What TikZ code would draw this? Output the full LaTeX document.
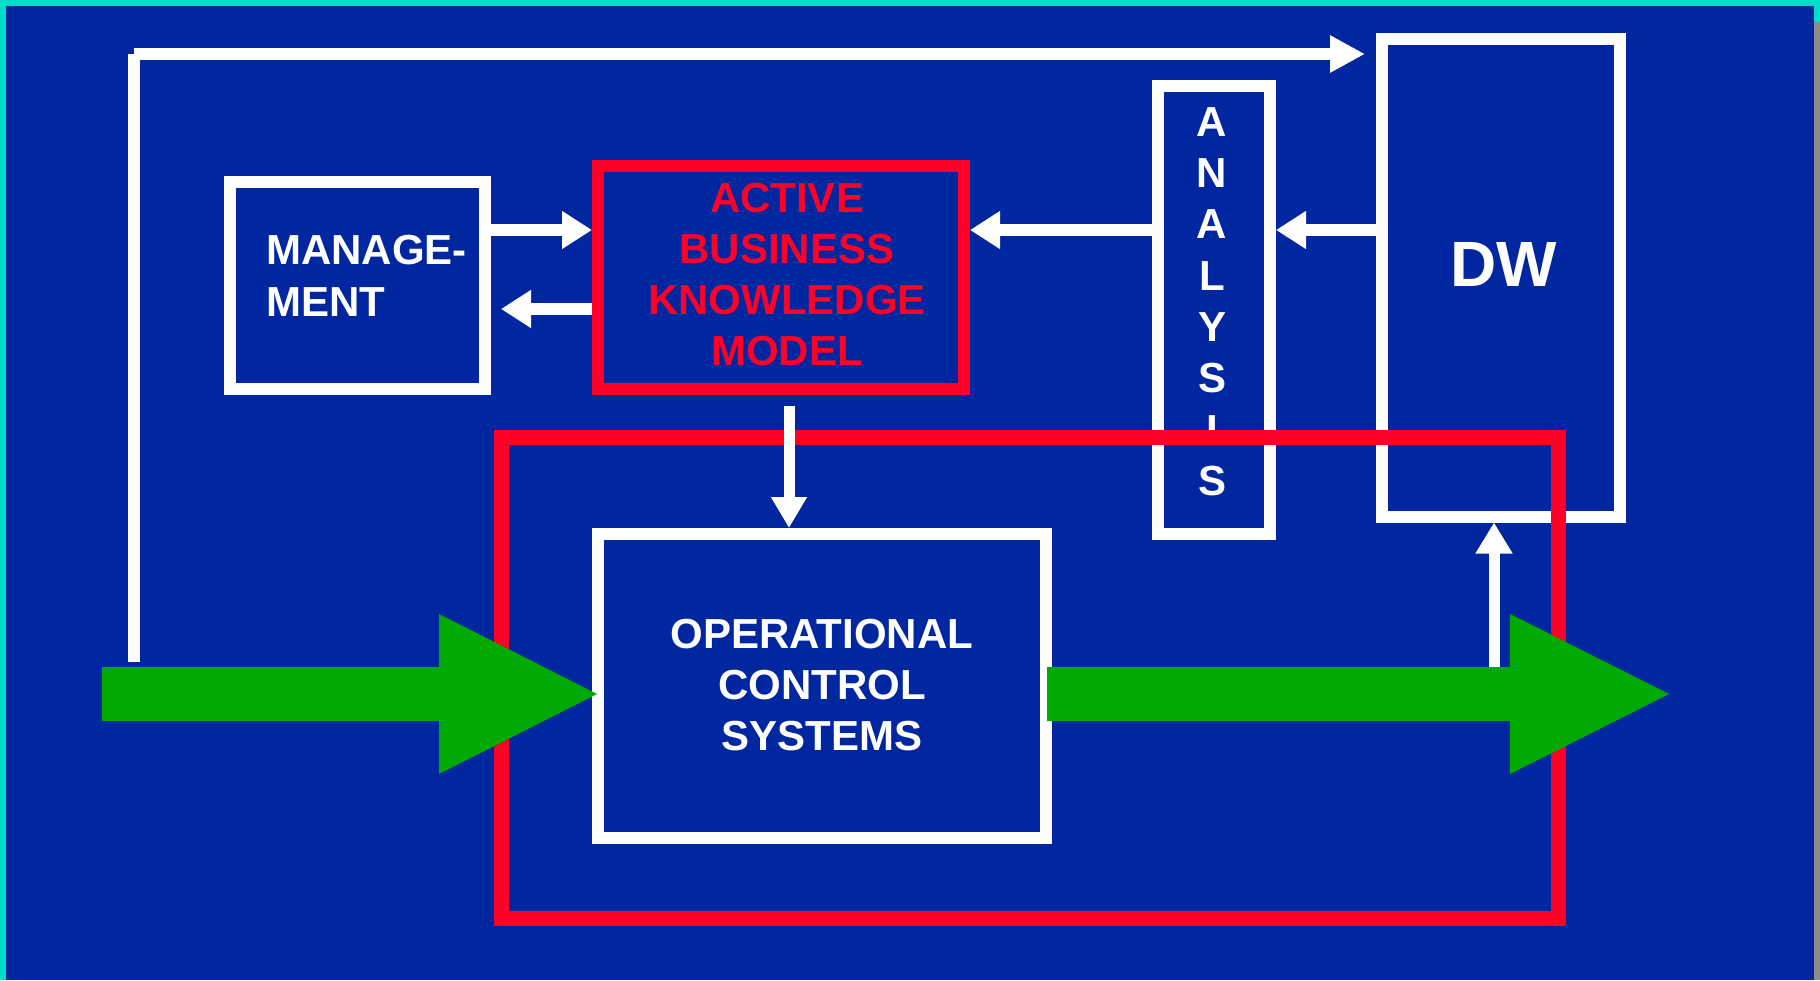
\documentclass[tikz,border=0pt]{standalone}
\usepackage{fontspec}
\setmainfont{Liberation Sans}
\usetikzlibrary{arrows.meta,calc}
\definecolor{bgblue}{RGB}{0,38,160}
\definecolor{edgecyan}{RGB}{0,221,204}
\definecolor{edgegray}{RGB}{140,140,140}
\definecolor{boxred}{RGB}{255,0,40}
\definecolor{flowgreen}{RGB}{0,170,0}
\begin{document}
\begin{tikzpicture}[x=1pt,y=-1pt,
  wbox/.style={draw=white, line width=12pt, inner sep=0pt},
  rbox/.style={draw=boxred, line width=12pt, inner sep=0pt},
  lbl/.style={text=white, font=\fontsize{42}{51}\selectfont\bfseries, align=center, inner sep=0pt},
  rlbl/.style={lbl, text=boxred},
  warrow/.style={draw=white, line width=12pt, -{Triangle[length=30pt,width=36pt]}},
  tarrow/.style={draw=white, line width=11pt, -{Triangle[length=31pt,width=34pt]}},
  greenflow/.style={fill=flowgreen, draw=none}
]
\useasboundingbox (0,0) rectangle (1820,980);
% background and frame
\fill[bgblue] (0,0) rectangle (1820,980);
\fill[edgecyan] (0,0) rectangle (1820,6);
\fill[edgecyan] (0,0) rectangle (6,980);
\fill[edgegray] (1814,22) rectangle (1820,980);
\fill[edgecyan] (1814,0) rectangle (1820,22);

% boxes
\node[wbox, minimum width=255pt, minimum height=207pt] (mgmt) at (357.5,285.5) {};
\node[rbox, minimum width=366pt, minimum height=223pt] (abkm) at (781,277.5) {};
\node[wbox, minimum width=112pt, minimum height=448pt] (analysis) at (1214,310) {};
\node[wbox, minimum width=238pt, minimum height=478pt] (dw) at (1501,277.5) {};
\node[wbox, minimum width=448pt, minimum height=304pt] (ocs) at (822,686) {};

% texts
\node[lbl, align=left, anchor=west, font=\fontsize{42}{51.5}\selectfont\bfseries] (mgmttext) at (266,276) {MANAGE-\\MENT};
\node[rlbl] (abkmtext) at (787,275) {ACTIVE\\BUSINESS\\KNOWLEDGE\\MODEL};
\node[lbl, font=\fontsize{42}{51.3}\selectfont\bfseries] (analysistext) at (1212,301.5) {A\\N\\A\\L\\Y\\S\\I\\S};
\node[lbl, font=\fontsize{64}{70}\selectfont\bfseries] (dwtext) at (1504,264) {DW};
\node[lbl] (ocstext) at (822,685) {OPERATIONAL\\CONTROL\\SYSTEMS};

% white connectors
\draw[warrow] (mgmt.east |- 0,230) -- (abkm.west |- 0,230);
\draw[warrow] (abkm.west |- 0,309) -- ($(mgmt.east |- 0,309)+(10,0)$);
\draw[warrow] (analysis.west |- 0,230) -- (abkm.east |- 0,230);
\draw[warrow] (dw.west |- 0,230) -- (analysis.east |- 0,230);

% feedback line to DW
\coordinate (fbstart) at (134,662);
\coordinate (fbcorner) at (134,54);
\draw[draw=white, line width=12pt] (fbstart) -- (fbcorner);
\draw[draw=white, line width=12pt, -{Triangle[length=35pt,width=35pt]}] (fbcorner) -- ($(dw.west |- fbcorner)+(-11,0)$);

% red enclosing box
\node[draw=boxred, line width=15pt, inner sep=0pt, minimum width=1057pt, minimum height=481pt] (redbox) at (1030,678) {};

% model to operational systems
\draw[tarrow] ($(abkm.south -| 789,0)+(0,11)$) -- (ocs.north -| 789,0);

% green flows
\fill[greenflow] (102,667) -- (439,667) -- (439,614) -- (597,694) -- (439,774) -- (439,721) -- (102,721) -- cycle;
\fill[greenflow] (1047,667) -- (1510,667) -- (1510,614) -- (1669,694) -- (1510,774) -- (1510,721) -- (1047,721) -- cycle;

% up to DW
\coordinate (flowtap) at (1494,667);
\draw[draw=white, line width=11pt, -{Triangle[length=31pt,width=35pt]}] (flowtap) -- (dw.south -| flowtap);
\end{tikzpicture}
\end{document}
